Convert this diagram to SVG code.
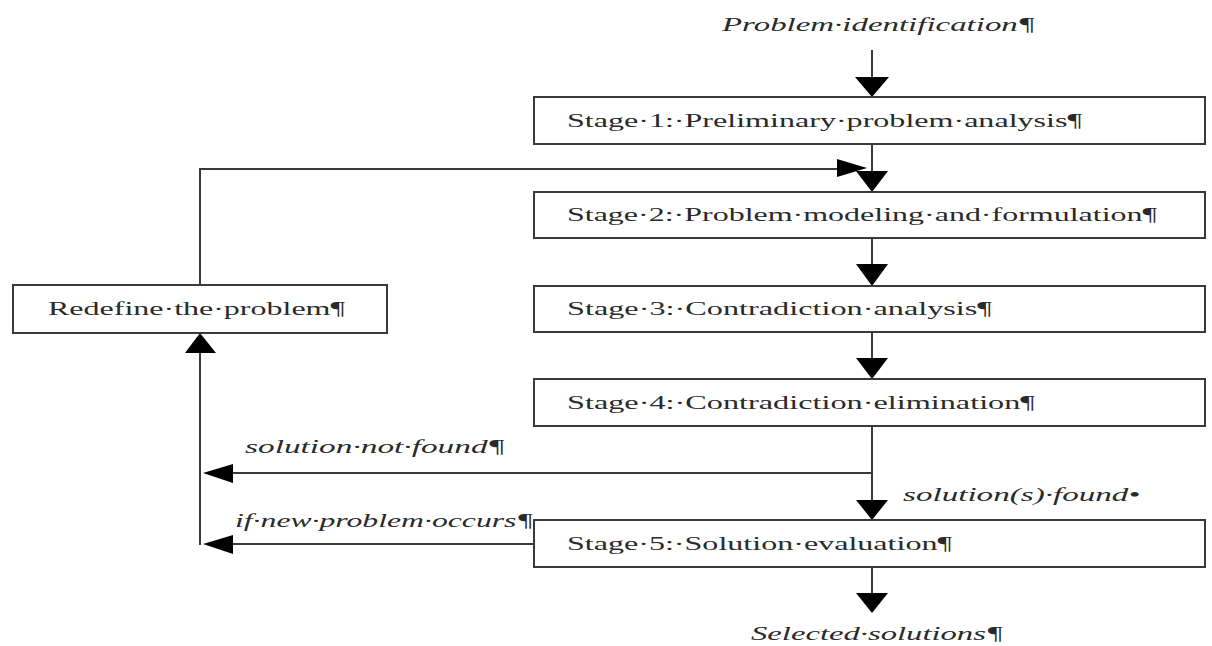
<svg xmlns="http://www.w3.org/2000/svg" width="1212" height="646" viewBox="0 0 1212 646">
<style>
.box{fill:#fff;stroke:#3a3a3a;stroke-width:2}
.t{font-family:"Liberation Serif","DejaVu Serif",serif;font-size:18px;fill:#2a2a2a}
.i{font-family:"Liberation Serif","DejaVu Serif",serif;font-style:italic;font-size:19px;fill:#2a2a2a}
.ln{fill:none;stroke:#3a3a3a;stroke-width:2}
.ah{fill:#000}
</style>
<rect width="1212" height="646" fill="#fff"/>
<g id="connectors">
<path class="ln" d="M872,50 V80"/>
<polygon class="ah" points="855,77 889,77 872,97"/>
<path class="ln" d="M872,144 V172"/>
<polygon class="ah" points="856,171 888,171 872,192"/>
<path class="ln" d="M200,285 V169 H840"/>
<polygon class="ah" points="837,159 837,177 867,168"/>
<path class="ln" d="M872,238 V266"/>
<polygon class="ah" points="856,264 888,264 872,286"/>
<path class="ln" d="M872,332 V360"/>
<polygon class="ah" points="856,358 888,358 872,379"/>
<path class="ln" d="M872,426 V502"/>
<polygon class="ah" points="856,500 888,500 872,520"/>
<path class="ln" d="M872,567 V595"/>
<polygon class="ah" points="856,593 888,593 872,613"/>
<path class="ln" d="M872,473 H230"/>
<polygon class="ah" points="233,464 233,483 203,473"/>
<path class="ln" d="M533,544 H230"/>
<polygon class="ah" points="233,535 233,554 203,544"/>
<path class="ln" d="M200,545 V350"/>
<polygon class="ah" points="185,353 216,353 200,333"/>
</g>
<g id="label-problem-identification"><text class="i" x="722" y="31" textLength="313" lengthAdjust="spacingAndGlyphs">Problem·identification¶</text></g>
<g id="label-solution-not-found"><text class="i" x="245" y="453" textLength="260" lengthAdjust="spacingAndGlyphs">solution·not·found¶</text></g>
<g id="label-if-new-problem"><text class="i" x="235" y="527" textLength="298" lengthAdjust="spacingAndGlyphs">if·new·problem·occurs¶</text></g>
<g id="label-solutions-found"><text class="i" x="903" y="501" textLength="237" lengthAdjust="spacingAndGlyphs">solution(s)·found•</text></g>
<g id="label-selected-solutions"><text class="i" x="751" y="640" textLength="252" lengthAdjust="spacingAndGlyphs">Selected·solutions¶</text></g>
<g id="stage1"><rect class="box" x="534" y="97" width="671" height="47"/><text class="t" x="567" y="127" textLength="515" lengthAdjust="spacingAndGlyphs">Stage·1:·Preliminary·problem·analysis¶</text></g>
<g id="stage2"><rect class="box" x="534" y="192" width="671" height="46"/><text class="t" x="567" y="221" textLength="590" lengthAdjust="spacingAndGlyphs">Stage·2:·Problem·modeling·and·formulation¶</text></g>
<g id="stage3"><rect class="box" x="534" y="286" width="671" height="46"/><text class="t" x="567" y="315" textLength="425" lengthAdjust="spacingAndGlyphs">Stage·3:·Contradiction·analysis¶</text></g>
<g id="stage4"><rect class="box" x="534" y="379" width="671" height="47"/><text class="t" x="567" y="409" textLength="468" lengthAdjust="spacingAndGlyphs">Stage·4:·Contradiction·elimination¶</text></g>
<g id="stage5"><rect class="box" x="534" y="520" width="671" height="47"/><text class="t" x="567" y="550" textLength="385" lengthAdjust="spacingAndGlyphs">Stage·5:·Solution·evaluation¶</text></g>
<g id="redefine"><rect class="box" x="13" y="285" width="374" height="48"/><text class="t" x="48" y="315" textLength="297" lengthAdjust="spacingAndGlyphs">Redefine·the·problem¶</text></g>
</svg>
